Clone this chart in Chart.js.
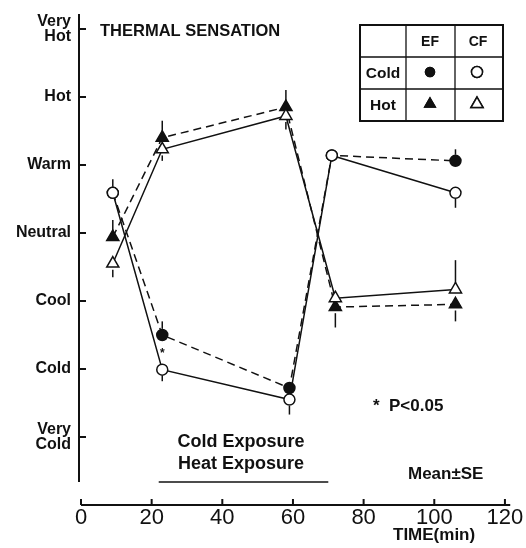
<!DOCTYPE html>
<html>
<head>
<meta charset="utf-8">
<script src="https://cdn.jsdelivr.net/npm/chart.js@4.4.1/dist/chart.umd.min.js"></script>
<style>
  html, body { margin: 0; padding: 0; background: #fff; }
  #wrap { width: 526px; height: 548px; }
</style>
</head>
<body>
<div id="wrap"><canvas id="chart-thermal"></canvas></div>
<script>
// sensation scale: -3 very cold ... +3 very hot
const sensationLabels = [['Very', 'Cold'], 'Cold', 'Cool', 'Neutral', 'Warm', 'Hot', ['Very', 'Hot']];
const sensationValues = [-3, -2, -1, 0, 1, 2, 3];
const timeTicks = [0, 20, 40, 60, 80, 100, 120];

const coldTime = [9, 23, 59, 71, 106];
const hotTime = [9, 23, 58, 72, 106];

const coldEF = [0.59, -1.50, -2.28, 1.14, 1.06];
const coldCF = [0.59, -2.01, -2.45, 1.14, 0.59];
const hotEF = [-0.06, 1.40, 1.85, -1.09, -1.05];
const hotCF = [-0.45, 1.23, 1.72, -0.96, -0.83];

// SE, sign = side the bar is drawn on (+ up, - down)
const coldEFse = [0.2, 0.2, 0, 0, 0.17];
const coldCFse = [0, -0.17, -0.22, 0, -0.22];
const hotEFse = [0.25, 0.25, 0.25, -0.3, -0.25];
const hotCFse = [-0.2, -0.17, -0.2, 0, 0.43];

const exposure = [22, 70];

const ink = '#111';
const font = 'Liberation Sans, Arial, sans-serif';

const toPoints = (xs, ys) => xs.map((x, i) => ({ x: x, y: ys[i] }));

const serie = (label, xs, ys, se, style, filled, dashed) => ({
  label: label,
  data: toPoints(xs, ys),
  se: se,
  showLine: true,
  borderColor: ink,
  borderWidth: 1.5,
  borderDash: dashed ? [8, 5] : [],
  pointStyle: style,
  pointRadius: style === 'triangle' ? 7 : 5.5,
  pointBackgroundColor: filled ? ink : '#fff',
  pointBorderColor: ink,
  pointBorderWidth: 1.5
});

const decoraciones = {
  id: 'decoraciones',
  afterDatasetsDraw(chart) {
    const ctx = chart.ctx;
    const x = chart.scales.x;
    const y = chart.scales.y;
    ctx.save();
    ctx.strokeStyle = ink;
    ctx.fillStyle = ink;

    // error bars
    ctx.lineWidth = 1.5;
    chart.data.datasets.forEach(ds => {
      ds.data.forEach((p, i) => {
        const s = ds.se[i];
        if (!s) return;
        const px = x.getPixelForValue(p.x);
        ctx.beginPath();
        ctx.moveTo(px, y.getPixelForValue(p.y + Math.sign(s) * 0.09));
        ctx.lineTo(px, y.getPixelForValue(p.y + s));
        ctx.stroke();
      });
    });

    // y axis with inward ticks
    const ax = x.getPixelForValue(0) - 2;
    ctx.lineWidth = 2;
    ctx.beginPath();
    ctx.moveTo(ax, y.getPixelForValue(3.22));
    ctx.lineTo(ax, y.getPixelForValue(-3.66));
    sensationValues.forEach(v => {
      const py = y.getPixelForValue(v);
      ctx.moveTo(ax, py);
      ctx.lineTo(ax + 7, py);
    });
    ctx.stroke();

    // x axis with inward ticks
    const ay = y.bottom;
    ctx.beginPath();
    ctx.moveTo(x.getPixelForValue(0), ay);
    ctx.lineTo(x.getPixelForValue(121.5), ay);
    timeTicks.forEach(t => {
      const px = x.getPixelForValue(t);
      ctx.moveTo(px, ay);
      ctx.lineTo(px, ay - 6);
    });
    ctx.stroke();

    // exposure bar
    ctx.lineWidth = 1.5;
    ctx.beginPath();
    ctx.moveTo(x.getPixelForValue(exposure[0]), 482);
    ctx.lineTo(x.getPixelForValue(exposure[1]), 482);
    ctx.stroke();

    ctx.textBaseline = 'middle';
    ctx.textAlign = 'left';
    ctx.font = 'bold 16.5px ' + font;
    ctx.fillText('THERMAL SENSATION', 100, 31);
    ctx.textAlign = 'center';
    ctx.font = 'bold 18px ' + font;
    ctx.fillText('Cold Exposure', 241, 442);
    ctx.fillText('Heat Exposure', 241, 464);
    ctx.textAlign = 'left';
    ctx.font = 'bold 17px ' + font;
    ctx.fillText('*', 373, 406);
    ctx.fillText('P<0.05', 389, 406);
    ctx.fillText('Mean±SE', 408, 474);
    ctx.fillText('TIME(min)', 393, 535);
    ctx.font = 'bold 12px ' + font;
    ctx.fillText('*', 160, 354);

    // legend table
    const cols = [360, 406, 455, 503];
    const rows = [25, 57, 89, 121];
    ctx.lineWidth = 2;
    ctx.strokeRect(cols[0], rows[0], cols[3] - cols[0], rows[3] - rows[0]);
    ctx.lineWidth = 1.3;
    ctx.beginPath();
    [cols[1], cols[2]].forEach(c => { ctx.moveTo(c, rows[0]); ctx.lineTo(c, rows[3]); });
    [rows[1], rows[2]].forEach(r => { ctx.moveTo(cols[0], r); ctx.lineTo(cols[3], r); });
    ctx.stroke();
    ctx.textAlign = 'center';
    ctx.font = 'bold 14px ' + font;
    ctx.fillText('EF', 430, 42);
    ctx.fillText('CF', 478, 42);
    ctx.font = 'bold 15.5px ' + font;
    ctx.fillText('Cold', 383, 74);
    ctx.fillText('Hot', 383, 106);
    const marca = (style, filled, px, py, r) => {
      Chart.helpers.drawPoint(ctx, {
        pointStyle: style, radius: r, borderWidth: 1.5, rotation: 0
      }, px, py);
      ctx.fillStyle = filled ? ink : '#fff';
      ctx.fill();
      ctx.stroke();
      ctx.fillStyle = ink;
    };
    ctx.lineWidth = 1.5;
    ctx.fillStyle = ink;
    marca('circle', true, 430, 72, 4.5);
    marca('circle', false, 477, 72, 5.5);
    marca('triangle', true, 430, 104, 6);
    marca('triangle', false, 477, 104, 7);

    ctx.restore();
  }
};

const ctx = document.getElementById('chart-thermal');
new Chart(ctx, {
  type: 'scatter',
  data: {
    datasets: [
      serie('Cold CF', coldTime, coldCF, coldCFse, 'circle', false, false),
      serie('Hot CF', hotTime, hotCF, hotCFse, 'triangle', false, false),
      serie('Cold EF', coldTime, coldEF, coldEFse, 'circle', true, true),
      serie('Hot EF', hotTime, hotEF, hotEFse, 'triangle', true, true)
    ]
  },
  plugins: [decoraciones],
  options: {
    responsive: true,
    maintainAspectRatio: false,
    animation: false,
    layout: { padding: { top: 8, right: 14, left: 0, bottom: 0 } },
    plugins: { legend: { display: false }, tooltip: { enabled: false } },
    scales: {
      x: {
        type: 'linear',
        min: 0,
        max: 122,
        afterFit: s => { s.height = 43; s.paddingLeft = 0; s.paddingRight = 0; },
        afterBuildTicks: s => { s.ticks = timeTicks.map(v => ({ value: v })); },
        grid: { display: false, drawTicks: false },
        border: { display: false },
        ticks: { color: ink, padding: 0, maxRotation: 0, font: { family: font, size: 22 } }
      },
      y: {
        type: 'linear',
        min: -4,
        max: 3.3,
        afterFit: s => { s.width = 81; s.paddingTop = 0; s.paddingBottom = 0; },
        afterBuildTicks: s => { s.ticks = sensationValues.map(v => ({ value: v })); },
        grid: { display: false, drawTicks: false },
        border: { display: false },
        ticks: {
          color: ink,
          padding: 10,
          font: { family: font, size: 16, weight: 'bold', lineHeight: 0.95 },
          callback: v => sensationLabels[sensationValues.indexOf(v)]
        }
      }
    }
  }
});
</script>
</body>
</html>
